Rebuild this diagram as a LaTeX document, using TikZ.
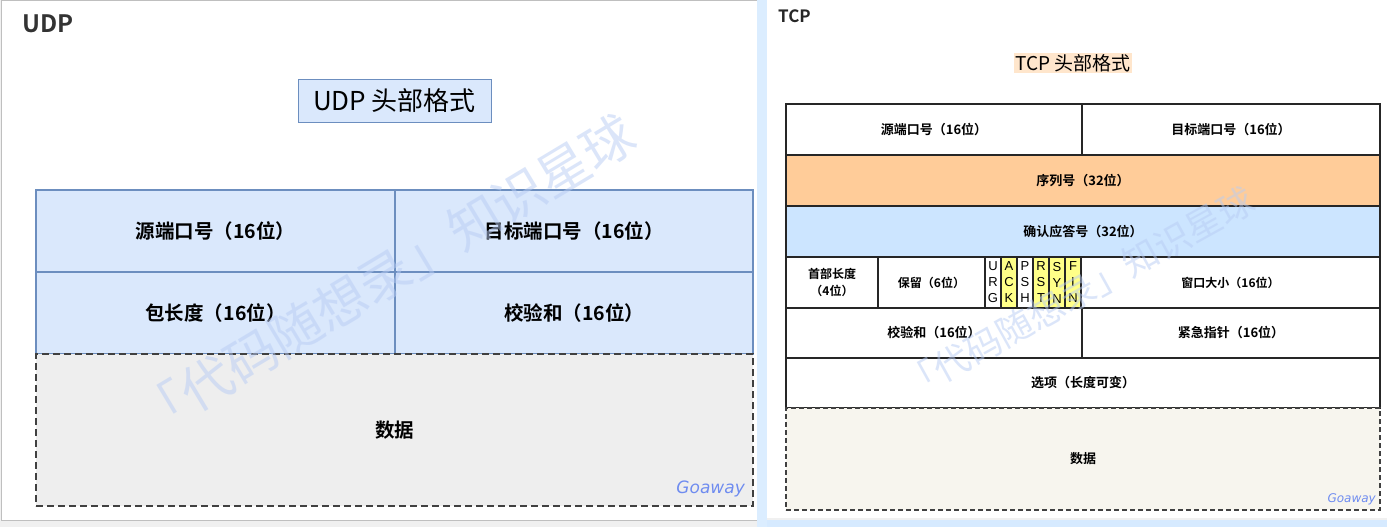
\documentclass[tikz,border=0pt]{standalone}
\usepackage{fontspec}
\setmainfont{Noto Sans CJK SC}
\newfontfamily\cjkb{Noto Sans CJK SC Bold}
\newfontfamily\cjkl{Noto Sans CJK SC}
\newfontfamily\hand{DejaVu Sans}
\newfontfamily\flagfont{Liberation Sans}
\definecolor{udpfill}{HTML}{DAE8FC}
\definecolor{udpline}{HTML}{6C8EBF}
\definecolor{datagray}{HTML}{EEEEEE}
\definecolor{seqfill}{HTML}{FFCC99}
\definecolor{ackfill}{HTML}{CCE5FF}
\definecolor{flagfill}{HTML}{FFFF88}
\definecolor{tcpdata}{HTML}{F7F5EE}
\definecolor{titlebg}{HTML}{FFE6CC}
\definecolor{wm}{HTML}{B8CCF4}
\definecolor{sign}{HTML}{6F8CF0}
\tikzset{
  udpcell/.style={draw=udpline, fill=udpfill, line width=1.3pt, inner sep=0pt, outer sep=0pt, anchor=north west,
    font=\cjkb\fontsize{19.5}{22}\selectfont},
  tcpcell/.style={draw=black!85, fill=white, line width=1.1pt, inner sep=0pt, outer sep=0pt, anchor=north west,
    font=\cjkb\fontsize{13}{15}\selectfont, align=center},
  flagcell/.style={tcpcell, minimum width=16pt, minimum height=51pt, font=\flagfont\fontsize{13}{16}\selectfont},
  watermark/.style={text=wm, opacity=0.5, font=\cjkl\fontsize{#1}{#1}\selectfont, inner sep=0pt},
  signature/.style={text=sign, font=\hand\itshape\fontsize{#1}{#1}\selectfont, inner sep=0pt},
}
\begin{document}
\begin{tikzpicture}[x=1pt,y=-1pt]
\useasboundingbox (0,0) rectangle (1387,527);
% backgrounds
\fill[black!6] (0,0) rectangle (1387,527);
\fill[white] (1,1) rectangle (757,520);
\draw[black!25, line width=1pt] (1,1) rectangle (757,520);
\fill[ackfill!70] (757,0) rectangle (767,527);
\fill[white] (767,0) rectangle (1387,518);
\fill[ackfill!80] (767,520) rectangle (1387,527);

% ================= UDP =================
\node[anchor=west, inner sep=0pt, text=black!80, font=\cjkb\fontsize{24}{26}\selectfont] (udptitle) at (22,24) {UDP};
\node[draw=udpline, fill=udpfill, line width=1pt, minimum width=193pt, minimum height=42pt, inner sep=0pt,
      font=\cjkl\fontsize{26}{28}\selectfont] (udphead) at (394.5,101) {UDP 头部格式};

\node[udpcell, minimum width=359pt, minimum height=82pt] (usrc) at (36,190) {源端口号（16位）};
\node[udpcell, minimum width=358pt, minimum height=82pt] (udst) at (395,190) {目标端口号（16位）};
\node[udpcell, minimum width=359pt, minimum height=82pt] (ulen) at (36,272) {包长度（16位）};
\node[udpcell, minimum width=358pt, minimum height=82pt] (usum) at (395,272) {校验和（16位）};
\node[draw=black!75, fill=datagray, dashed, dash pattern=on 7pt off 4pt, line width=2pt, inner sep=0pt, outer sep=0pt,
      anchor=north west, minimum width=717pt, minimum height=152pt,
      font=\cjkb\fontsize{19.5}{22}\selectfont] (udata) at (36,354) {数据};
\node[signature=17, anchor=south east] (usign) at (745,497) {Goaway};

% ================= TCP =================
\node[anchor=west, inner sep=0pt, text=black!85, font=\cjkb\fontsize{17}{19}\selectfont] (tcptitle) at (778,16) {TCP};
\node[fill=titlebg, inner sep=1.5pt, font=\cjkl\fontsize{19}{21}\selectfont] (tcphead) at (1073,63) {TCP 头部格式};

\node[tcpcell, minimum width=296pt, minimum height=51pt] (tsrc) at (786,104) {源端口号（16位）};
\node[tcpcell, minimum width=298pt, minimum height=51pt] (tdst) at (1082,104) {目标端口号（16位）};
\node[tcpcell, fill=seqfill, minimum width=594pt, minimum height=51pt] (tseq) at (786,155) {序列号（32位）};
\node[tcpcell, fill=ackfill, minimum width=594pt, minimum height=51pt] (tack) at (786,206) {确认应答号（32位）};

\node[tcpcell, minimum width=92pt, minimum height=51pt, font=\cjkb\fontsize{12}{17.5}\selectfont] (thlen) at (786,257) {首部长度\\（4位）};
\node[tcpcell, minimum width=107pt, minimum height=51pt, font=\cjkb\fontsize{12}{14}\selectfont] (tres) at (878,257) {保留（6位）};
\node[flagcell] (furg) at (985,257) {U\\R\\G};
\node[flagcell, fill=flagfill] (fack) at (1001,257) {A\\C\\K};
\node[flagcell] (fpsh) at (1017,257) {P\\S\\H};
\node[flagcell, fill=flagfill] (frst) at (1033,257) {R\\S\\T};
\node[flagcell, fill=flagfill] (fsyn) at (1049,257) {S\\Y\\N};
\node[flagcell, fill=flagfill] (ffin) at (1065,257) {F\\I\\N};
\node[tcpcell, minimum width=299pt, minimum height=51pt, font=\cjkb\fontsize{12}{14}\selectfont] (twin) at (1081,257) {窗口大小（16位）};

\node[tcpcell, minimum width=296pt, minimum height=50pt] (tsum) at (786,308) {校验和（16位）};
\node[tcpcell, minimum width=298pt, minimum height=50pt] (turg) at (1082,308) {紧急指针（16位）};
\node[tcpcell, minimum width=594pt, minimum height=50pt] (topt) at (786,358) {选项（长度可变）};
\node[tcpcell, fill=tcpdata, draw=black!75, dashed, dash pattern=on 5pt off 3pt, line width=1.5pt, minimum width=594pt, minimum height=102pt] (tdata) at (786,408) {数据};
\node[signature=12, anchor=south east] (tsign) at (1376,505) {Goaway};

% ================= watermarks (on top) =================
\node[watermark=52, rotate=31] (wm1) at (385,276) {「代码随想录」知识星球};
\node[watermark=36, rotate=29] (wm2) at (1078,293) {「代码随想录」知识星球};
\end{tikzpicture}
\end{document}
